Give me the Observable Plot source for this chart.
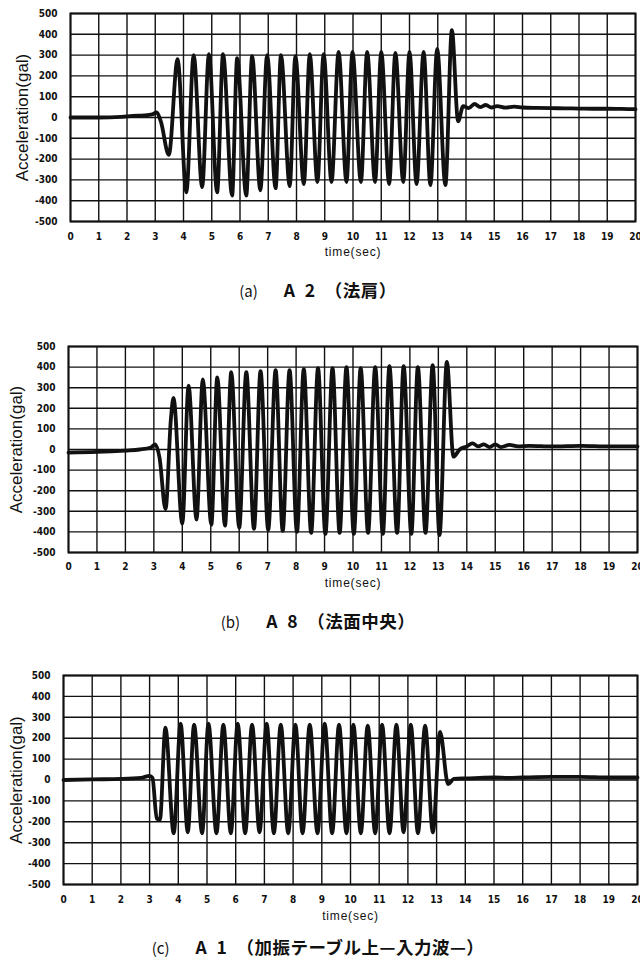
<!DOCTYPE html>
<html><head><meta charset="utf-8">
<script src="https://cdn.jsdelivr.net/npm/d3@7"></script>
<script src="https://cdn.jsdelivr.net/npm/@observablehq/plot@0.6"></script>
<style>
body{margin:0;background:#fff;}
#page{position:relative;width:640px;height:967px;overflow:hidden;background:#fff;}
.panel{position:absolute;left:0;}
.cap{position:absolute;left:0;width:636px;text-align:center;font-family:"Noto Sans CJK JP",sans-serif;color:#111;line-height:26px;height:26px;white-space:pre;}
.cap .lab{font-size:15px;font-weight:400;margin-right:26px;}
.cap .ttl{font-size:17.5px;font-weight:700;letter-spacing:0.5px;}
</style></head><body><div id="page"></div>
<script>
const xTicks = [0,1,2,3,4,5,6,7,8,9,10,11,12,13,14,15,16,17,18,19,20];
const yTicks = [-500,-400,-300,-200,-100,0,100,200,300,400,500];

const timeA = [0,1.0,1.8,2.2,2.6,2.9,3.05,3.2,3.48,3.79,4.1,4.36,4.66,4.9,5.19,5.4,5.72,5.9,6.22,6.43,6.72,6.96,7.26,7.45,7.76,7.96,8.26,8.47,8.74,8.96,9.24,9.49,9.77,9.98,10.28,10.5,10.78,11.0,11.28,11.5,11.78,12.0,12.25,12.5,12.74,12.98,13.27,13.5,13.72,13.9,14.1,14.3,14.5,14.7,14.9,15.1,15.4,15.7,16.0,16.5,17,17.5,18,18.5,19,19.5,20];
const accA  = [0,0,3,8,10,15,25,-20,-180,280,-360,300,-335,305,-360,305,-375,285,-375,295,-350,300,-340,300,-330,295,-320,305,-310,305,-310,315,-310,315,-310,315,-310,315,-320,310,-310,315,-320,315,-325,330,-325,420,-18,55,45,65,50,60,48,55,47,52,48,46,45,44,43,42,42,41,40];

const timeB = [0,1,2,2.5,2.9,3.05,3.2,3.41,3.6,3.69,4.0,4.22,4.5,4.72,5.02,5.23,5.5,5.72,6.0,6.25,6.52,6.75,7.02,7.28,7.53,7.77,8.03,8.27,8.53,8.77,9.03,9.28,9.53,9.77,10.03,10.27,10.53,10.78,11.05,11.28,11.55,11.78,12.05,12.28,12.55,12.8,13.04,13.3,13.53,13.75,14.0,14.2,14.4,14.6,14.8,15.0,15.2,15.5,15.8,16.2,17,18,19,20];
const accB  = [-15,-12,-5,0,10,25,-40,-290,150,250,-360,310,-340,340,-365,350,-370,375,-380,375,-385,380,-390,385,-395,385,-400,390,-405,395,-410,395,-405,400,-410,395,-405,400,-410,405,-405,405,-410,400,-405,410,-415,425,-35,0,15,30,15,25,12,25,12,22,15,18,15,18,15,15];

const timeC = [0,1,2,2.7,3.0,3.1,3.25,3.36,3.55,3.84,4.08,4.33,4.55,4.83,5.05,5.33,5.57,5.83,6.07,6.33,6.57,6.83,7.08,7.33,7.57,7.83,8.08,8.33,8.58,8.85,9.1,9.36,9.6,9.86,10.1,10.36,10.6,10.86,11.1,11.36,11.6,11.85,12.1,12.35,12.6,12.87,13.12,13.4,13.6,14,14.5,15,15.5,16,17,18,19,20];
const accC  = [0,3,5,10,20,10,-185,-190,250,-255,270,-250,265,-255,270,-255,265,-255,270,-255,265,-250,270,-255,265,-255,265,-255,265,-255,270,-255,265,-255,265,-255,260,-255,265,-255,265,-250,265,-255,260,-250,230,-20,5,8,10,12,10,12,15,15,12,12];

const capLabels = ["(a)", "(b)", "(c)"];
const capTitles = ["A\u20022\u2002（法肩）", "A\u20028\u2002（法面中央）", "A\u20021\u2002（加振テーブル上—入力波—）"];
const yLabel = "Acceleration(gal)";
const xLabel = "time(sec)";

const layout = [
  {t: timeA, a: accA, top: 0,   height: 260, mt: 13, mb: 39, ml: 70, mr: 5, xPad: 11, yPad: 13, yDx: -48, xDy: 31, capY: 290},
  {t: timeB, a: accB, top: 320, height: 272, mt: 26, mb: 40, ml: 68, mr: 3, xPad: 10, yPad: 13, yDx: -52, xDy: 31, capY: 621},
  {t: timeC, a: accC, top: 652, height: 272, mt: 23, mb: 40, ml: 63, mr: 3, xPad: 11, yPad: 13, yDx: -47, xDy: 32, capY: 947}
];

const page = document.getElementById("page");
const tickFont = "'DejaVu Sans Condensed', 'Liberation Sans Narrow', 'DejaVu Sans', sans-serif";
const labelFont = "'Liberation Sans', Arial, sans-serif";

layout.forEach((p, i) => {
  const rows = p.t.map((t, k) => ({t, a: p.a[k]}));
  const chart = Plot.plot({
    width: 640, height: p.height,
    marginTop: p.mt, marginBottom: p.mb, marginLeft: p.ml, marginRight: p.mr,
    style: {background: "#fff", color: "#111", fontFamily: tickFont, fontSize: "10px", overflow: "visible"},
    x: {domain: [0, 20]},
    y: {domain: [-500, 500]},
    marks: [
      Plot.gridX(xTicks, {stroke: "#111", strokeOpacity: 1, strokeWidth: 1.4}),
      Plot.gridY(yTicks, {stroke: "#111", strokeOpacity: 1, strokeWidth: 1.4}),
      Plot.frame({stroke: "#111", strokeWidth: 2}),
      Plot.line(rows, {x: "t", y: "a", curve: "monotone-x", stroke: "#111", strokeWidth: 3.8, strokeLinejoin: "round"}),
      Plot.axisX(xTicks, {tickSize: 0, tickPadding: p.xPad, tickFormat: d => String(d), label: null, fontWeight: "bold", fontSize: 10, fontFamily: tickFont}),
      Plot.axisY(yTicks, {tickSize: 0, tickPadding: p.yPad, tickFormat: d => String(d), label: null, fontWeight: "bold", fontSize: 10, fontFamily: tickFont}),
      Plot.text([yLabel], {frameAnchor: "left", textAnchor: "middle", lineAnchor: "middle", rotate: -90, dx: p.yDx, fontSize: 17, fontWeight: "normal", fontFamily: labelFont, fill: "#111"}),
      Plot.text([xLabel], {frameAnchor: "bottom", textAnchor: "middle", lineAnchor: "middle", dy: p.xDy, fontSize: 12, fontWeight: "normal", fontFamily: labelFont, fill: "#111"})
    ]
  });
  d3.select(chart).selectAll("text").filter(function() { return this.textContent === xLabel; }).style("letter-spacing", "0.8px");
  chart.classList.add("panel");
  chart.style.top = p.top + "px";
  page.appendChild(chart);

  const cap = document.createElement("div");
  cap.className = "cap";
  cap.style.top = (p.capY - 13) + "px";
  const l = document.createElement("span"); l.className = "lab"; l.textContent = capLabels[i];
  const t = document.createElement("span"); t.className = "ttl"; t.textContent = capTitles[i];
  cap.appendChild(l); cap.appendChild(t);
  page.appendChild(cap);
});
</script></body></html>
